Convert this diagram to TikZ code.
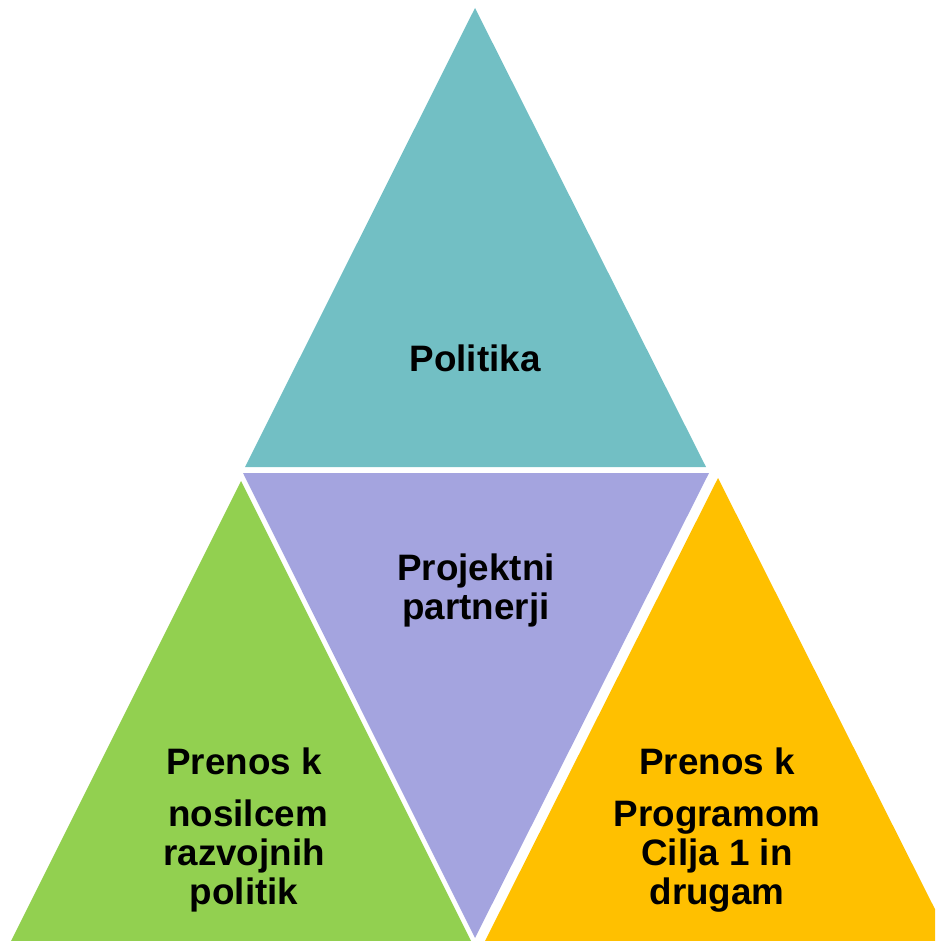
\documentclass[tikz,border=0pt]{standalone}
\usepackage{fontspec}
\setmainfont{Liberation Sans}
\usepackage{tikz}

\definecolor{tealtri}{HTML}{72BFC4}
\definecolor{purpletri}{HTML}{A4A4DF}
\definecolor{greentri}{HTML}{92D050}
\definecolor{goldtri}{HTML}{FFC000}

\begin{document}
\begin{tikzpicture}[x=1pt,y=-1pt,
		lbl/.style={font=\bfseries\fontsize{36.8}{39}\selectfont,
			align=center, text=black, inner sep=0pt}
		]
			\useasboundingbox (0,0) rectangle (935,941);
			\clip (0,0) rectangle (935,941);

			% Politika
			\fill [tealtri] (475,8) -- (706,467) -- (245,467) -- cycle;

			% Projektni partnerji
			\fill [purpletri] (243,473) -- (709,473) -- (475,938) -- cycle;

			% Prenos k nosilcem
			\fill [greentri] (241,481) -- (473,945) -- (9,945) -- cycle;

			% Prenos k Programom
			\fill [goldtri] (718,478) -- (953,945) -- (483,945) -- cycle;

			% Labels
			\node [lbl] (pol) at (475,358) {Politika};
			\node [lbl] (pp) at (476,590) {Projektni\\partnerji};
			\node [lbl] (nos) at (244,830) {Prenos k\\[13pt]\hspace{8pt}nosilcem\\razvojnih\\politik};
			\node [lbl] (prog) at (717,830) {Prenos k\\[13pt]Programom\\Cilja 1 in\\drugam};

		\end{tikzpicture}
\end{document}
